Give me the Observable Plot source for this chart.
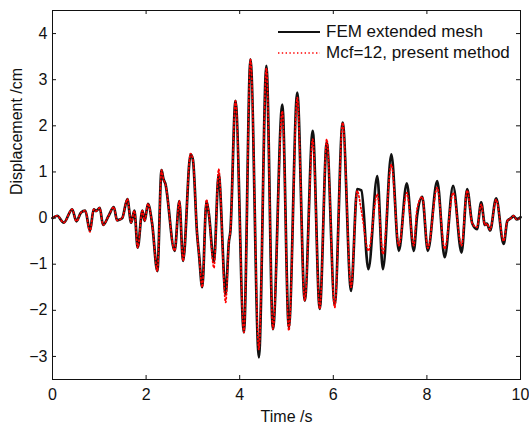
<!DOCTYPE html>
<html><head><meta charset="utf-8">
<script src="https://cdn.jsdelivr.net/npm/d3@7"></script>
<script src="https://cdn.jsdelivr.net/npm/@observablehq/plot@0.6"></script>
<style>
body{margin:0;background:#fff;}
#wrap{position:relative;width:529px;height:425px;font-family:"Liberation Sans",Arial,sans-serif;}
.legend{position:absolute;left:278px;top:21px;font-size:17px;color:#111;}
.row{display:flex;align-items:center;height:21px;white-space:nowrap;}
.row svg{margin-right:6px;}
</style></head><body><div id="wrap"></div>
<script>
// time (s) of turning points, FEM (black) and Mcf=12 (red) displacements (cm)
const time = [0.00,0.10,0.24,0.42,0.51,0.61,0.70,0.80,0.88,0.93,1.01,1.08,1.20,1.31,1.38,1.44,1.49,1.60,1.68,1.75,1.82,1.92,1.97,2.04,2.13,2.24,2.33,2.37,2.41,2.61,2.71,2.79,2.95,3.00,3.09,3.13,3.20,3.29,3.34,3.45,3.55,3.70,3.77,3.80,3.91,4.09,4.23,4.41,4.57,4.71,4.91,5.05,5.23,5.39,5.56,5.71,5.86,6.03,6.20,6.38,6.51,6.60,6.75,6.94,7.06,7.24,7.40,7.57,7.72,7.79,7.90,8.02,8.22,8.38,8.56,8.74,8.86,8.97,9.07,9.16,9.24,9.28,9.35,9.48,9.64,9.72,9.80,9.85,9.92,10.00];
const femValues = [0.00,0.05,-0.10,0.19,-0.07,0.12,0.16,-0.28,0.19,0.15,0.22,-0.15,0.05,0.24,-0.05,-0.03,0.00,0.41,-0.10,0.16,-0.64,0.16,-0.06,0.31,-0.13,-1.15,1.04,0.85,0.75,-0.71,0.37,-0.93,1.38,1.27,-0.35,-0.78,-1.50,0.37,0.10,-0.95,0.95,-1.65,-0.50,-0.30,2.54,-2.48,3.44,-3.02,3.30,-2.41,2.46,-2.37,2.72,-1.79,1.89,-1.97,1.64,-1.87,2.07,-1.58,0.63,0.60,-1.11,0.91,-1.11,1.38,-0.71,0.75,-0.71,0.05,0.46,-0.71,0.80,-0.85,0.70,-0.75,0.63,-0.12,-0.24,0.34,-0.15,-0.12,-0.27,0.43,-0.56,-0.06,0.00,0.05,-0.03,0.02];
const mcfValues = [0.00,0.05,-0.10,0.19,-0.07,0.12,0.16,-0.30,0.19,0.15,0.22,-0.15,0.05,0.24,-0.05,-0.03,0.00,0.41,-0.10,0.16,-0.64,0.16,-0.06,0.31,-0.13,-1.15,1.04,0.85,0.75,-0.71,0.37,-0.93,1.40,1.27,-0.35,-0.78,-1.50,0.40,0.10,-1.08,1.06,-1.83,-0.50,-0.30,2.54,-2.48,3.44,-2.85,3.25,-2.41,2.32,-2.44,2.61,-1.79,1.71,-1.97,1.71,-1.94,2.07,-1.50,0.59,0.16,-0.71,0.52,-0.78,1.16,-0.60,0.55,-0.60,0.20,0.46,-0.65,0.66,-0.67,0.55,-0.60,0.60,-0.12,-0.20,0.30,-0.15,-0.12,-0.25,0.40,-0.50,-0.06,0.00,0.05,-0.03,0.02];
const xTicks = [0,2,4,6,8,10];
const yTicks = [-3,-2,-1,0,1,2,3,4];
const xLabel = "Time /s";
const yLabel = "Displacement /cm";
const seriesNames = ["FEM extended mesh","Mcf=12, present method"];

const fem = time.map((t,i)=>({t, v: femValues[i]}));
const mcf = time.map((t,i)=>({t, v: mcfValues[i]}));
const W=529,H=425,mL=52,mR=9,mT=10,mB=46;
const plotW=W-mL-mR, plotH=H-mT-mB, tickLen=4;
const font = "Liberation Sans, Arial, sans-serif";

const chart = Plot.plot({
  width:W, height:H, marginLeft:mL, marginRight:mR, marginTop:mT, marginBottom:mB,
  style:{fontFamily:font, fontSize:"16px", color:"#111", background:"#fff"},
  x:{domain:[0,10]},
  y:{domain:[-3.5,4.5]},
  marks:[
    Plot.line(fem,{x:"t",y:"v",stroke:"#111",strokeWidth:2.7,curve:"monotone-x"}),
    Plot.line(mcf,{x:"t",y:"v",stroke:"#ff0000",strokeWidth:1.7,strokeDasharray:"1.4,2.4",curve:"monotone-x"}),
    Plot.frame({stroke:"#111",strokeWidth:1}),
    Plot.tickX(xTicks,{x:d=>d,stroke:"#111",insetTop:plotH-tickLen}),
    Plot.tickX(xTicks,{x:d=>d,stroke:"#111",insetBottom:plotH-tickLen}),
    Plot.tickY(yTicks,{y:d=>d,stroke:"#111",insetRight:plotW-tickLen}),
    Plot.tickY(yTicks,{y:d=>d,stroke:"#111",insetLeft:plotW-tickLen}),
    Plot.axisX(xTicks,{tickSize:0,tickPadding:9,label:null,fontSize:16}),
    Plot.axisY(yTicks,{tickSize:0,tickPadding:5,label:null,fontSize:16}),
    Plot.text([xLabel],{text:d=>d,frameAnchor:"bottom",dy:42.7,lineAnchor:"bottom",fontSize:16,fill:"#111"}),
    Plot.text([yLabel],{text:d=>d,frameAnchor:"left",dx:-42,rotate:-90,lineAnchor:"top",fontSize:16,fill:"#111"})
  ]
});
const wrap = document.getElementById("wrap");
wrap.appendChild(chart);
const leg = document.createElement("div");
leg.className = "legend";
const swatches = [
  '<svg width="42" height="6"><line x1="0" y1="3" x2="42" y2="3" stroke="#111" stroke-width="2.2"/></svg>',
  '<svg width="42" height="6"><line x1="0" y1="3" x2="42" y2="3" stroke="#ff0000" stroke-width="1.7" stroke-dasharray="1.4,2.4"/></svg>'
];
seriesNames.forEach((n,i)=>{
  const r=document.createElement("div"); r.className="row";
  r.innerHTML = swatches[i]; const s=document.createElement("span"); s.textContent=n; r.appendChild(s);
  leg.appendChild(r);
});
wrap.appendChild(leg);
</script>
</body></html>
